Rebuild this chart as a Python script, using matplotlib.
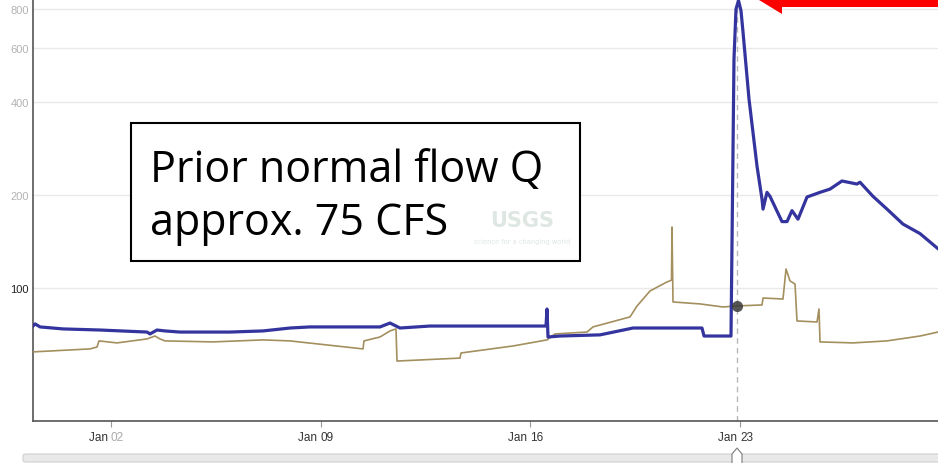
import matplotlib
matplotlib.use("Agg")
import matplotlib.pyplot as plt
import matplotlib.dates as mdates
from matplotlib.patches import Polygon, Rectangle, FancyBboxPatch
from matplotlib.ticker import FixedLocator, NullLocator
import pandas as pd

# ---------------- data ----------------
blue_times = ["2024-12-30 09:30", "2024-12-30 11:10", "2024-12-30 15:10", "2024-12-31 09:30",
              "2025-01-01 15:10", "2025-01-03 04:50", "2025-01-03 07:15", "2025-01-03 12:50",
              "2025-01-03 19:15", "2025-01-04 07:18", "2025-01-05 23:20", "2025-01-07 01:48",
              "2025-01-07 23:27", "2025-01-08 15:27", "2025-01-10 23:34", "2025-01-11 07:35",
              "2025-01-11 15:35", "2025-01-12 15:37", "2025-01-14 23:43", "2025-01-16 12:35",
              "2025-01-16 13:23", "2025-01-16 14:11", "2025-01-16 23:48", "2025-01-18 07:51",
              "2025-01-19 10:18", "2025-01-21 17:35", "2025-01-21 19:12", "2025-01-22 16:49",
              "2025-01-22 18:01", "2025-01-22 19:13", "2025-01-22 20:50", "2025-01-22 22:50",
              "2025-01-23 00:50", "2025-01-23 02:27", "2025-01-23 07:15", "2025-01-23 13:40",
              "2025-01-23 17:40", "2025-01-23 18:29", "2025-01-23 21:40", "2025-01-24 00:04",
              "2025-01-24 09:41", "2025-01-24 13:42", "2025-01-24 17:42", "2025-01-24 22:31",
              "2025-01-25 05:44", "2025-01-25 16:09", "2025-01-26 00:10", "2025-01-26 09:46",
              "2025-01-26 21:47", "2025-01-27 00:11", "2025-01-27 10:36", "2025-01-27 21:50",
              "2025-01-28 10:39", "2025-01-29 00:17", "2025-01-29 14:42", "2025-01-29 20:18"]
blue_values = [75.3, 76.5, 74.8, 73.7,
               73.1, 72.0, 71.0, 73.1,
               72.6, 72.0, 72.0, 72.6,
               74.2, 74.8, 74.8, 77.0,
               74.2, 75.3, 75.3, 75.3,
               85.5, 69.4, 69.9, 70.5,
               74.2, 74.2, 69.9, 69.9,
               194, 551, 800, 852,
               790, 674, 409, 248,
               194, 180, 204, 198,
               164, 164, 178, 167,
               197, 204, 209, 222,
               217, 220, 198, 180,
               161, 150, 134, 130]

brown_times = ["2024-12-30 09:30", "2025-01-01 07:10", "2025-01-01 12:48", "2025-01-01 14:23",
               "2025-01-02 04:48", "2025-01-03 04:50", "2025-01-03 11:15", "2025-01-03 15:16",
               "2025-01-03 19:15", "2025-01-05 09:44", "2025-01-07 01:48", "2025-01-07 23:27",
               "2025-01-10 09:56", "2025-01-10 10:44", "2025-01-10 23:34", "2025-01-11 07:35",
               "2025-01-11 12:23", "2025-01-11 13:11", "2025-01-13 15:40", "2025-01-13 16:28",
               "2025-01-15 10:08", "2025-01-16 13:23", "2025-01-16 19:48", "2025-01-17 21:26",
               "2025-01-18 02:14", "2025-01-19 07:54", "2025-01-19 13:30", "2025-01-19 23:56",
               "2025-01-20 13:32", "2025-01-20 17:09", "2025-01-20 17:33", "2025-01-20 18:21",
               "2025-01-21 15:59", "2025-01-22 10:25", "2025-01-22 21:38", "2025-01-23 17:40",
               "2025-01-23 18:29", "2025-01-24 10:29", "2025-01-24 12:55", "2025-01-24 16:06",
               "2025-01-24 20:07", "2025-01-24 21:43", "2025-01-25 13:45", "2025-01-25 15:21",
               "2025-01-25 16:09", "2025-01-26 18:36", "2025-01-27 21:50", "2025-01-29 00:17",
               "2025-01-29 14:42", "2025-01-29 20:18"]
brown_values = [62.1, 63.5, 64.4, 67.4,
                66.4, 68.4, 69.9, 68.4,
                67.4, 66.9, 67.9, 67.4,
                63.5, 67.4, 69.4, 72.6,
                73.7, 58.0, 59.3, 61.6,
                64.9, 67.9, 71.0, 72.0,
                74.8, 80.6, 87.4, 97.8,
                104.6, 106.0, 157.5, 90.1,
                88.8, 86.8, 87.5, 88.1,
                92.8, 92.1, 115.2, 105.4,
                103.0, 78.2, 77.6, 85.5,
                66.9, 66.4, 67.4, 69.9,
                72.0, 72.3]

marker_time = "2025-01-22 21:38"
marker_value = 87.5

y_ticks = [100, 200, 400, 600, 800]
y_tick_labels = ["100", "200", "400", "600", "800"]
x_tick_dates = ["2025-01-02", "2025-01-09", "2025-01-16", "2025-01-23"]
x_tick_month = ["Jan", "Jan", "Jan", "Jan"]
x_tick_day = ["02", "09", "16", "23"]

note_lines = ["Prior normal flow Q", "approx. 75 CFS"]
watermark = ["USGS", "science for a changing world"]

# ---------------- figure ----------------
W, H = 938, 464
fig = plt.figure(figsize=(W / 100, H / 100), dpi=100)
fig.patch.set_facecolor("white")


def P(x, y):
    return (x / W, 1 - y / H)


ax_left, ax_bottom_px, ax_right = 33, 422, 938
ax = fig.add_axes([ax_left / W, 1 - ax_bottom_px / H, (ax_right - ax_left) / W, ax_bottom_px / H])
ax.set_facecolor("white")

bt = pd.to_datetime(blue_times)
brt = pd.to_datetime(brown_times)

ax.set_yscale("log")
ax.set_ylim(37.1, 862)
ax.set_xlim(pd.Timestamp("2024-12-30 09:30"), pd.Timestamp("2025-01-29 14:42"))

for v in y_ticks:
    ax.axhline(v, color="#e9e9e9", lw=1.0, zorder=0)

ax.plot(brt, brown_values, color="#a48f5e", lw=1.2, zorder=3, solid_joinstyle="round")
ax.plot(bt, blue_values, color="#34349e", lw=2.3, zorder=4, solid_joinstyle="round")

mt = pd.Timestamp(marker_time)
ax.axvline(mt, color="#b8b8b8", lw=1.0, ls=(0, (4, 3)), zorder=2)
ax.plot([mt], [marker_value], "o", ms=8, color="#3a3a3a", alpha=0.85, zorder=5, mec="none")

tick_family = ["Liberation Sans Narrow", "Liberation Sans", "DejaVu Sans"]
ax.yaxis.set_major_locator(FixedLocator(y_ticks))
ax.yaxis.set_minor_locator(NullLocator())
ax.set_yticks(y_ticks)
ax.set_yticklabels(y_tick_labels, fontsize=8, family=tick_family)
for lab, v in zip(ax.get_yticklabels(), y_ticks):
    lab.set_color("#222222" if v == 100 else "#b3b3b3")
ax.tick_params(axis="y", length=0, pad=3)

ax.set_xticks(pd.to_datetime(x_tick_dates))
ax.set_xticklabels([""] * len(x_tick_dates))
ax.tick_params(axis="x", length=4, width=0.8, color="#999999", pad=2)

xtr = ax.get_xaxis_transform()
for i, (d, m, dd) in enumerate(zip(x_tick_dates, x_tick_month, x_tick_day)):
    dcol = "#aaaaaa" if i == 0 else "#333333"
    ts = mdates.date2num(pd.Timestamp(d))
    ax.text(ts, -0.038, m + " ", transform=xtr, ha="right", va="center", fontsize=8.5,
            color="#333333", family=tick_family)
    ax.text(ts, -0.038, dd, transform=xtr, ha="left", va="center", fontsize=8.5,
            color=dcol, family=tick_family)

for s in ["top", "right"]:
    ax.spines[s].set_visible(False)
for s in ["left", "bottom"]:
    ax.spines[s].set_color("#555555")
    ax.spines[s].set_linewidth(1.2)

# ---------------- annotation box ----------------
x0, y0 = P(131, 262)
x1, y1 = P(580, 124)
fig.patches.append(Rectangle((x0, y0), x1 - x0, y1 - y0, transform=fig.transFigure,
                             facecolor="white", edgecolor="black", lw=1.5, zorder=10))
# faint watermark, kept clear of the note text
fig.text(*P(522, 221), watermark[0], ha="center", va="center", fontsize=15, fontweight="bold",
         color="#dfe7e2", zorder=11, family="DejaVu Sans")
fig.text(*P(522, 242), watermark[1], ha="center", va="center", fontsize=4.8,
         color="#dfe7e2", zorder=11, family="DejaVu Sans")

fig.text(*P(150, 182), note_lines[0], ha="left", va="baseline", fontsize=31,
         color="black", zorder=12, family=["Open Sans", "DejaVu Sans"])
fig.text(*P(150, 235), note_lines[1], ha="left", va="baseline", fontsize=31,
         color="black", zorder=12, family=["Open Sans", "DejaVu Sans"])

# ---------------- red arrow (top right) ----------------
arrow_pts = [P(759, 1), P(782, 15), P(782, 8), P(945, 8), P(945, -6), P(782, -6), P(782, -13)]
fig.patches.append(Polygon(arrow_pts, closed=True, transform=fig.transFigure,
                           facecolor="#ff0000", edgecolor="none", zorder=20))

# ---------------- slider at bottom ----------------
sx0, sy0 = P(23, 463)
sx1, sy1 = P(945, 455)
fig.patches.append(FancyBboxPatch((sx0, sy0), sx1 - sx0, sy1 - sy0, transform=fig.transFigure,
                                  boxstyle="round,pad=0,rounding_size=0.004",
                                  facecolor="#e9e9e9", edgecolor="#cfcfcf", lw=0.8, zorder=5))
handle = [P(737, 449), P(742, 455), P(742, 465), P(732, 465), P(732, 455)]
fig.patches.append(Polygon(handle, closed=True, transform=fig.transFigure,
                           facecolor="white", edgecolor="#888888", lw=0.9, zorder=6))

fig.savefig("out.png", dpi=100, facecolor="white")
